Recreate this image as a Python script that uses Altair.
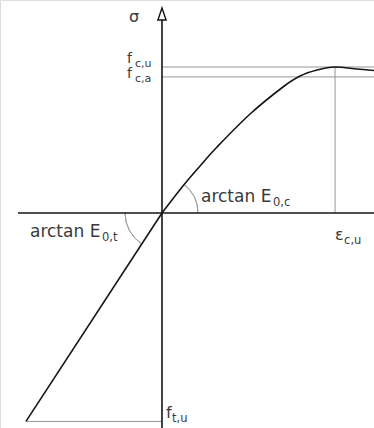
import math
import altair as alt
import pandas as pd

# Stress-strain diagram in normalised units: x = eps / eps_cu, y = sigma / f_cu
W, H = 374, 428
X_DOMAIN = [-0.936, 1.225]
Y_DOMAIN = [-1.473, 1.459]
PX_X = W / (X_DOMAIN[1] - X_DOMAIN[0])
PX_Y = H / (Y_DOMAIN[1] - Y_DOMAIN[0])

# compression branch
comp_eps = [0.0, 0.121, 0.220, 0.318, 0.509, 0.699, 0.798, 0.896, 1.0, 1.127, 1.225]
comp_sig = [0.0, 0.185, 0.322, 0.452, 0.678, 0.863, 0.938, 0.979, 1.0, 0.986, 0.976]

# tension branch (linear up to f_tu)
tens_eps = [0.0, -0.786]
tens_sig = [0.0, -1.428]

f_cu = 1.0
f_ca = 0.932
eps_cu = 1.0
f_tu = -1.428

axis_left = -0.832      # left end of the strain axis
axis_top = 1.322        # base of the arrow head on the stress axis

xs = alt.Scale(domain=X_DOMAIN, nice=False, zero=False)
ys = alt.Scale(domain=Y_DOMAIN, nice=False, zero=False)


def X(field="x"):
    return alt.X(f"{field}:Q", scale=xs, axis=None)


def Y(field="y"):
    return alt.Y(f"{field}:Q", scale=ys, axis=None)


# thin grey guide lines
guides = pd.DataFrame({
    "x": [0.0, 0.0, eps_cu, tens_eps[1]],
    "x2": [X_DOMAIN[1], X_DOMAIN[1], eps_cu, 0.0],
    "y": [f_cu, f_ca, 0.0, f_tu],
    "y2": [f_cu, f_ca, f_cu, f_tu],
})
guide_layer = alt.Chart(guides).mark_rule(color="#959595", strokeWidth=1).encode(
    x=X(), x2="x2:Q", y=Y(), y2="y2:Q"
)

# coordinate axes
axes = pd.DataFrame({
    "x": [axis_left, 0.0],
    "x2": [X_DOMAIN[1], 0.0],
    "y": [0.0, Y_DOMAIN[0]],
    "y2": [0.0, axis_top + 0.03],
})
axis_layer = alt.Chart(axes).mark_rule(color="#151515", strokeWidth=1.6).encode(
    x=X(), x2="x2:Q", y=Y(), y2="y2:Q"
)

arrow = alt.Chart(pd.DataFrame({"x": [0.0], "y": [axis_top]})).mark_point(
    shape="M0,-1L0.34,0L-0.34,0Z", size=576, fill="white", fillOpacity=1,
    stroke="#151515", strokeWidth=1.4, opacity=1
).encode(x=X(), y=Y())

comp = pd.DataFrame({"x": comp_eps, "y": comp_sig})
comp_layer = alt.Chart(comp).mark_line(
    color="#151515", strokeWidth=1.6, interpolate="cardinal"
).encode(x=X(), y=Y())

tens = pd.DataFrame({"x": tens_eps, "y": tens_sig})
tens_layer = alt.Chart(tens).mark_line(color="#151515", strokeWidth=1.6).encode(
    x=X(), y=Y()
)

# angle arcs for the initial moduli (theta measured clockwise from 12 o'clock)
ang_c = math.atan2(comp_sig[1] * PX_Y, comp_eps[1] * PX_X)
ang_t = math.atan2(-tens_sig[1] * PX_Y, -tens_eps[1] * PX_X)
origin = pd.DataFrame({"x": [0.0], "y": [0.0]})
arc_c = alt.Chart(origin).mark_arc(
    radius=36, radius2=36, theta=math.pi / 2 - ang_c, theta2=math.pi / 2,
    fillOpacity=0, stroke="#a0a0a0", strokeWidth=1
).encode(x=X(), y=Y())
arc_t = alt.Chart(origin).mark_arc(
    radius=37, radius2=37, theta=1.5 * math.pi - ang_t, theta2=1.5 * math.pi,
    fillOpacity=0, stroke="#a0a0a0", strokeWidth=1
).encode(x=X(), y=Y())

# labels: text, anchor point (data units), pixel offset, font size
labels = [
    ("σ", 0.0, axis_top, -33, 2, 16),
    ("f", 0.0, f_cu, -35, -4, 14),
    ("c,u", 0.0, f_cu, -27, 0, 11),
    ("f", 0.0, f_ca, -35, 1, 14),
    ("c,a", 0.0, f_ca, -27, 5, 11),
    ("ε", eps_cu, 0.0, 0, 27, 16),
    ("c,u", eps_cu, 0.0, 9, 31, 11.5),
    ("arctan E", 0.0, 0.0, 39, -11, 17),
    ("0,c", 0.0, 0.0, 111, -7, 11.5),
    ("arctan E", 0.0, 0.0, -132, 24, 17),
    ("0,t", 0.0, 0.0, -60, 28, 11.5),
    ("f", 0.0, f_tu, 4, -3, 16),
    ("t,u", 0.0, f_tu, 10, 1, 11.5),
]
text_layers = []
for txt, ax, ay, dx, dy, size in labels:
    text_layers.append(
        alt.Chart(pd.DataFrame({"x": [ax], "y": [ay], "t": [txt]})).mark_text(
            align="left", baseline="alphabetic", dx=dx, dy=dy, fontSize=size,
            font="DejaVu Sans", color="#3a3a3a"
        ).encode(x=X(), y=Y(), text="t:N")
    )

chart = alt.layer(
    guide_layer, arc_c, arc_t, axis_layer, comp_layer, tens_layer, arrow,
    *text_layers
).properties(
    width=W, height=H, padding=0, autosize=alt.AutoSizeParams(type="none")
).configure_view(stroke=None).configure(background="white")

chart.save("out.html", embed_options={"renderer": "svg", "actions": False})
